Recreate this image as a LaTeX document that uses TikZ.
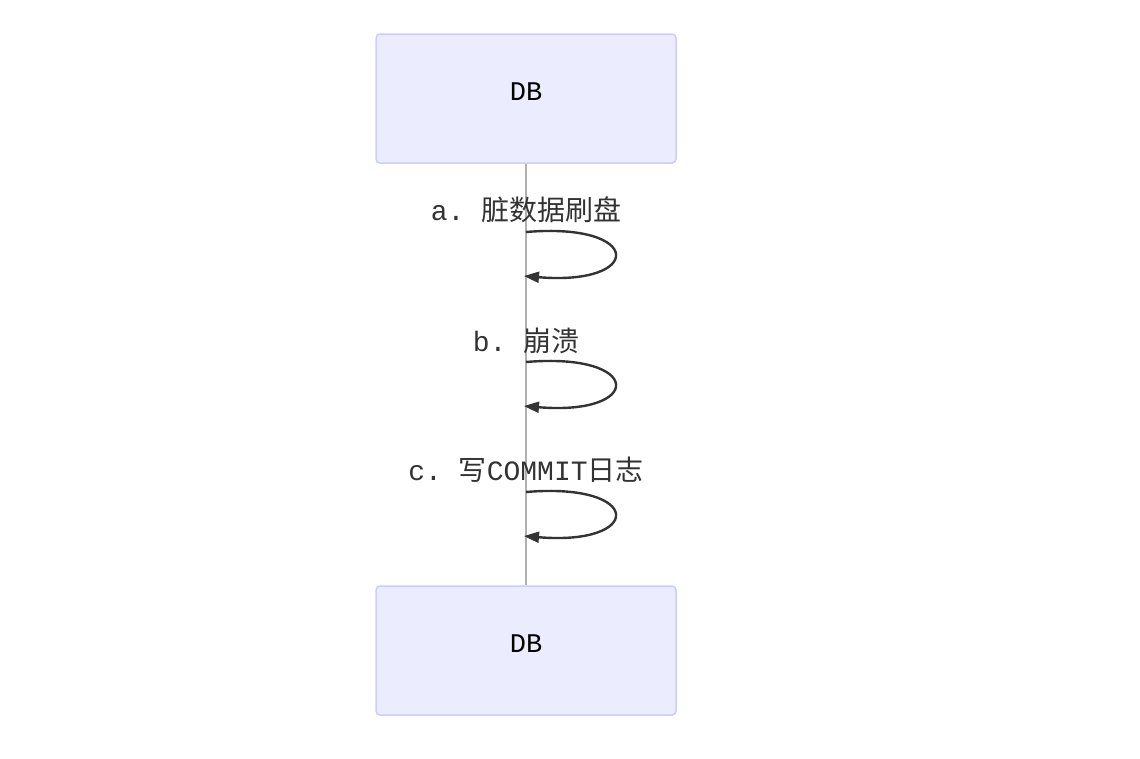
\documentclass[tikz,border=0pt]{standalone}
\usepackage{fontspec}
\setmonofont{Liberation Mono}
\newfontfamily\cjk{Noto Sans CJK SC}
\usetikzlibrary{arrows.meta}
\definecolor{actfill}{HTML}{ECECFF}
\definecolor{actline}{HTML}{CCCCFF}
\definecolor{msg}{HTML}{333333}
\definecolor{life}{HTML}{B0B0B0}
\begin{document}
\begin{tikzpicture}[x=1pt,y=-1pt,
  actor/.style={draw=actline,fill=actfill,line width=1.5pt,rounded corners=4pt,minimum width=300pt,minimum height=129pt,inner sep=0pt},
  actorlabel/.style={text=black,font=\ttfamily\fontsize{27}{32}\selectfont,yshift=7pt},
  msglabel/.style={inner sep=0pt,text=msg,font=\ttfamily\fontsize{28}{34}\selectfont},
  selfloop/.style={draw=msg,line width=2.4pt,-{Triangle[length=15pt,width=11pt]}}]
\useasboundingbox (0,0) rectangle (1140,758);
\node[actor,label={[actorlabel]center:DB}] (top) at (526,98.5) {};
\node[actor,label={[actorlabel]center:DB}] (bot) at (526,650.5) {};
\draw[life,line width=1.2pt] (top.south) -- (bot.north);
\node[msglabel] (la) at (526,210) {a. {\cjk 脏数据刷盘}};
\node[msglabel] (lb) at (526,341) {b. {\cjk 崩溃}};
\node[msglabel] (lc) at (526,470) {c. {\cjk 写}COMMIT{\cjk 日志}};
\coordinate (a1) at (526,232); \coordinate (a2) at (524,276);
\coordinate (b1) at (526,362); \coordinate (b2) at (524,406);
\coordinate (c1) at (526,492); \coordinate (c2) at (524,536);
\draw[selfloop] (a1) .. controls (644,222) and (644,286) .. (a2);
\draw[selfloop] (b1) .. controls (644,352) and (644,416) .. (b2);
\draw[selfloop] (c1) .. controls (644,482) and (644,546) .. (c2);
\end{tikzpicture}
\end{document}
